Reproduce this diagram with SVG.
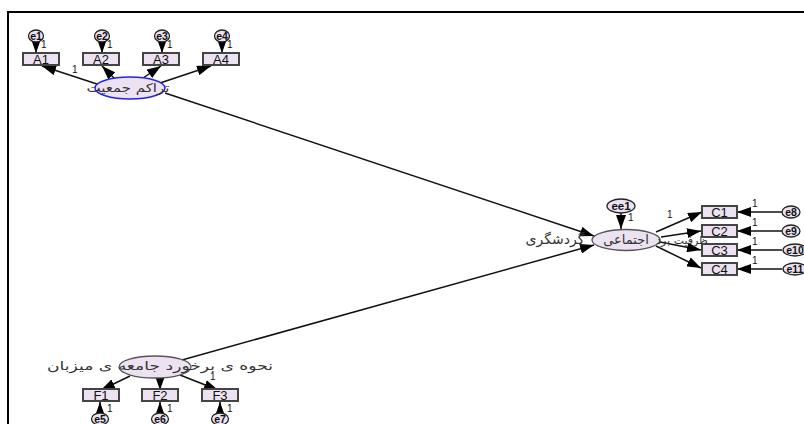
<svg xmlns="http://www.w3.org/2000/svg" width="804" height="424" viewBox="0 0 804 424">
<defs>
<marker id="ah" markerUnits="userSpaceOnUse" markerWidth="14" markerHeight="10" refX="14" refY="5" orient="auto"><path d="M0,0 L14,5 L0,10 z" fill="#000"/></marker>
<style>
.c line{stroke:#111;stroke-width:1.5;marker-end:url(#ah)}
.box{fill:#ece2f2;stroke:#444;stroke-width:2}
.lat{fill:#ece2f2;stroke:#555;stroke-width:1.3}
.err{fill:#ece2f2;stroke:#222;stroke-width:1.3}
.t{font-family:"Liberation Sans",Arial,sans-serif;font-size:13px;fill:#111;text-anchor:middle}
.et{font-family:"Liberation Sans",Arial,sans-serif;font-size:10.5px;font-weight:bold;fill:#111;text-anchor:middle}
.one{font-family:"Liberation Sans",Arial,sans-serif;font-size:10px;fill:#111}
.fa{font-family:"DejaVu Sans","Noto Sans",sans-serif;font-size:12px;fill:#333;text-anchor:middle;direction:rtl}
</style>
</defs>
<rect width="804" height="424" fill="#fff"/>
<rect x="8" y="12" width="820" height="430" fill="none" stroke="#000" stroke-width="2"/>
<g id="connectors" class="c">
<line x1="36" y1="41" x2="36" y2="53"/>
<line x1="102" y1="41" x2="102" y2="53"/>
<line x1="162" y1="41" x2="162" y2="53"/>
<line x1="222" y1="41" x2="222" y2="53"/>
<line x1="100" y1="85" x2="42" y2="66"/>
<line x1="115" y1="79" x2="102" y2="66"/>
<line x1="143" y1="78" x2="161" y2="66"/>
<line x1="160" y1="83" x2="211" y2="66"/>
<line x1="165" y1="93" x2="594" y2="236"/>
<line x1="182" y1="360" x2="594" y2="245"/>
<line x1="621" y1="213" x2="621" y2="229"/>
<line x1="656" y1="232" x2="702" y2="212"/>
<line x1="661" y1="237" x2="701" y2="231"/>
<line x1="660" y1="242" x2="701" y2="250"/>
<line x1="656" y1="246" x2="701" y2="268"/>
<line x1="782" y1="212" x2="737" y2="212"/>
<line x1="782" y1="231" x2="737" y2="231"/>
<line x1="782" y1="250" x2="737" y2="250"/>
<line x1="782" y1="269" x2="737" y2="269"/>
<line x1="130" y1="376" x2="101" y2="390"/>
<line x1="160" y1="378" x2="160" y2="390"/>
<line x1="180" y1="375" x2="218" y2="390"/>
<line x1="100" y1="413" x2="100" y2="402"/>
<line x1="160" y1="413" x2="160" y2="402"/>
<line x1="220" y1="413" x2="220" y2="402"/>
</g>
<g id="labels1">
<text class="one" x="41" y="48">1</text>
<text class="one" x="107" y="48">1</text>
<text class="one" x="167" y="48">1</text>
<text class="one" x="227" y="48">1</text>
<text class="one" x="72" y="73">1</text>
<text class="one" x="628" y="221">1</text>
<text class="one" x="667" y="218">1</text>
<text class="one" x="752" y="207">1</text>
<text class="one" x="752" y="226">1</text>
<text class="one" x="752" y="245">1</text>
<text class="one" x="752" y="264">1</text>
<text class="one" x="210" y="380">1</text>
<text class="one" x="107" y="412">1</text>
<text class="one" x="167" y="412">1</text>
<text class="one" x="227" y="412">1</text>
</g>
<g id="e1"><ellipse class="err" cx="36" cy="36" rx="7.5" ry="6"/><text class="et" x="36" y="40">e1</text></g>
<g id="e2"><ellipse class="err" cx="102" cy="36" rx="7.5" ry="6"/><text class="et" x="102" y="40">e2</text></g>
<g id="e3"><ellipse class="err" cx="162" cy="36" rx="7.5" ry="6"/><text class="et" x="162" y="40">e3</text></g>
<g id="e4"><ellipse class="err" cx="222" cy="36" rx="7.5" ry="6"/><text class="et" x="222" y="40">e4</text></g>
<g id="A1"><rect class="box" x="23" y="53" width="36" height="12"/><text class="t" x="41" y="64">A1</text></g>
<g id="A2"><rect class="box" x="83" y="53" width="36" height="12"/><text class="t" x="101" y="64">A2</text></g>
<g id="A3"><rect class="box" x="143" y="53" width="36" height="12"/><text class="t" x="161" y="64">A3</text></g>
<g id="A4"><rect class="box" x="203" y="53" width="36" height="12"/><text class="t" x="221" y="64">A4</text></g>
<g id="L1"><ellipse cx="130" cy="88" rx="35" ry="11" fill="#ece2f2" stroke="#2222ee" stroke-width="1.5"/><text class="fa" x="128" y="92" textLength="83" lengthAdjust="spacingAndGlyphs">تراکم جمعیت</text></g>
<g id="L2"><ellipse class="lat" cx="626" cy="240" rx="34" ry="10.5"/><text class="fa" y="244" style="font-size:13px"><tspan x="682" style="font-size:11px">ظرفیت برد</tspan><tspan x="626"> اجتماعی </tspan><tspan x="555" style="font-size:14px">گردشگری</tspan></text></g>
<g id="ee1"><ellipse class="err" cx="621" cy="206" rx="14" ry="7"/><text class="et" x="621" y="210" style="font-size:11.5px">ee1</text></g>
<g id="C1"><rect class="box" x="702" y="206" width="35" height="12"/><text class="t" x="719.5" y="217">C1</text></g>
<g id="C2"><rect class="box" x="702" y="225" width="35" height="12"/><text class="t" x="719.5" y="236">C2</text></g>
<g id="C3"><rect class="box" x="702" y="244" width="35" height="12"/><text class="t" x="719.5" y="255">C3</text></g>
<g id="C4"><rect class="box" x="702" y="263" width="35" height="12"/><text class="t" x="719.5" y="274">C4</text></g>
<g id="e8"><ellipse class="err" cx="791" cy="212" rx="9" ry="6"/><text class="et" x="791" y="216">e8</text></g>
<g id="e9"><ellipse class="err" cx="791" cy="231" rx="9" ry="6"/><text class="et" x="791" y="235">e9</text></g>
<g id="e10"><ellipse class="err" cx="795" cy="250" rx="12" ry="6"/><text class="et" x="795" y="254">e10</text></g>
<g id="e11"><ellipse class="err" cx="795" cy="269" rx="12" ry="6"/><text class="et" x="795" y="273">e11</text></g>
<g id="L3"><ellipse class="lat" cx="155" cy="367" rx="36" ry="11"/><text class="fa" x="160" y="370" textLength="226" lengthAdjust="spacingAndGlyphs">نحوه ی برخورد جامعه ی میزبان</text></g>
<g id="F1"><rect class="box" x="83" y="389" width="36" height="12"/><text class="t" x="101" y="400">F1</text></g>
<g id="F2"><rect class="box" x="142" y="389" width="36" height="12"/><text class="t" x="160" y="400">F2</text></g>
<g id="F3"><rect class="box" x="202" y="389" width="36" height="12"/><text class="t" x="220" y="400">F3</text></g>
<g id="e5"><ellipse class="err" cx="100" cy="419" rx="8.5" ry="6"/><text class="et" x="100" y="423">e5</text></g>
<g id="e6"><ellipse class="err" cx="160" cy="419" rx="8.5" ry="6"/><text class="et" x="160" y="423">e6</text></g>
<g id="e7"><ellipse class="err" cx="220" cy="419" rx="8.5" ry="6"/><text class="et" x="220" y="423">e7</text></g>
</svg>
